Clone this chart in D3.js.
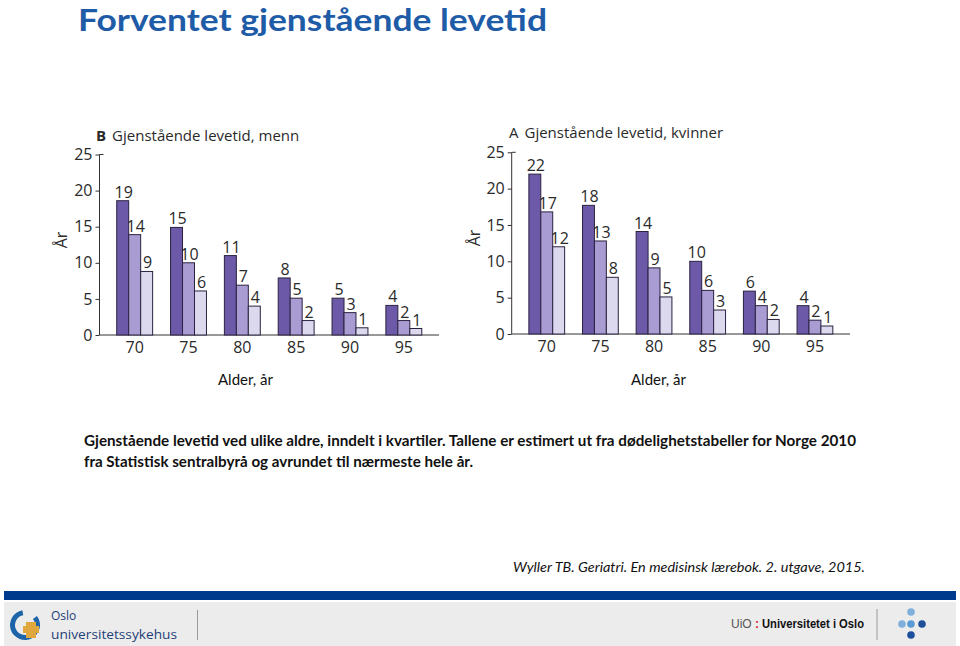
<!DOCTYPE html>
<html>
<head>
<meta charset="utf-8">
<script src="https://cdn.jsdelivr.net/npm/d3@7"></script>
<style>
  html, body { margin: 0; padding: 0; background: #fff; }
  svg { display: block; }
</style>
</head>
<body>
<div id="chart"></div>
<script>
// ---------- data ----------
const ages = ["70", "75", "80", "85", "90", "95"];
const quartileKeys = ["øvre", "median", "nedre"];
const yTicks = [0, 5, 10, 15, 20, 25];

// Men (panel B): bar heights (years) per age, per quartile, and printed labels
const menUpper  = [18.6, 14.9, 11.0, 7.9, 5.1, 4.1];
const menMedian = [13.9, 10.0, 6.9, 5.1, 3.1, 2.0];
const menLower  = [8.8, 6.1, 4.0, 2.0, 1.0, 0.9];
const menUpperLbl  = [19, 15, 11, 8, 5, 4];
const menMedianLbl = [14, 10, 7, 5, 3, 2];
const menLowerLbl  = [9, 6, 4, 2, 1, 1];

// Women (panel A)
const womenUpper  = [22.0, 17.7, 14.1, 10.0, 5.9, 3.9];
const womenMedian = [16.8, 12.8, 9.1, 6.0, 3.9, 1.9];
const womenLower  = [12.0, 7.8, 5.1, 3.3, 2.0, 1.1];
const womenUpperLbl  = [22, 18, 14, 10, 6, 4];
const womenMedianLbl = [17, 13, 9, 6, 4, 2];
const womenLowerLbl  = [12, 8, 5, 3, 2, 1];

const W = 960, H = 646;
const svg = d3.select("#chart").append("svg").attr("width", W).attr("height", H);

// ---------- title ----------
svg.append("text")
  .attr("x", 78).attr("y", 31)
  .attr("font-family", "Lato, 'Open Sans', sans-serif")
  .attr("font-weight", 700)
  .attr("font-size", 31)
  .attr("fill", "#1f5ca8")
  .attr("textLength", 469).attr("lengthAdjust", "spacingAndGlyphs")
  .text("Forventet gjenstående levetid");

const colors = ["#6c5aa9", "#a99cd2", "#dcd8ee"];
const chartFont = "'Open Sans', 'Noto Sans', sans-serif";

function panel(cfg) {
  const g = svg.append("g");
  const x0 = d3.scaleBand().domain(ages).range([cfg.x0, cfg.x1]).paddingInner(0.333).paddingOuter(0.32);
  const x1 = d3.scaleBand().domain(quartileKeys).range([0, x0.bandwidth()]);
  const y = d3.scaleLinear().domain([0, 25]).range([cfg.y0, cfg.y25]);

  // y axis
  const ya = g.append("g").attr("transform", `translate(${cfg.x0},0)`)
    .call(d3.axisLeft(y).tickValues(yTicks).tickSize(4).tickPadding(3));
  ya.select(".domain").remove();
  ya.selectAll(".tick line").attr("stroke", "#333");
  ya.selectAll(".tick text").attr("font-family", chartFont).attr("font-size", 16).attr("fill", "#2a2a2a");
  g.append("line").attr("x1", cfg.x0).attr("x2", cfg.x0).attr("y1", y(0)).attr("y2", y(25)).attr("stroke", "#333");
  g.append("line").attr("x1", cfg.x0).attr("x2", cfg.x0 + 4).attr("y1", y(25)).attr("y2", y(25)).attr("stroke", "#333");

  // x axis
  g.append("line").attr("x1", cfg.x0).attr("x2", cfg.x1).attr("y1", y(0)).attr("y2", y(0)).attr("stroke", "#333");
  const xa = g.append("g").attr("transform", `translate(0,${y(0)})`)
    .call(d3.axisBottom(x0).tickSize(0).tickPadding(7));
  xa.select(".domain").remove();
  xa.selectAll(".tick text").attr("font-family", chartFont).attr("font-size", 16).attr("fill", "#2a2a2a");

  // bars
  const rows = ages.map((a, i) => ({
    age: a,
    vals: quartileKeys.map((k, j) => ({ key: k, v: cfg.series[j][i], lbl: cfg.labels[j][i], j }))
  }));
  const grp = g.selectAll("g.grp").data(rows).join("g").attr("class", "grp")
    .attr("transform", d => `translate(${x0(d.age)},0)`);
  grp.selectAll("rect").data(d => d.vals).join("rect")
    .attr("x", d => x1(d.key)).attr("width", x1.bandwidth())
    .attr("y", d => y(d.v)).attr("height", d => y(0) - y(d.v))
    .attr("fill", d => colors[d.j]).attr("stroke", "#2b2240").attr("stroke-width", 1);
  grp.selectAll("text").data(d => d.vals).join("text")
    .attr("x", d => x1(d.key) + x1.bandwidth() / 2 + 1)
    .attr("y", d => y(d.v) - 3)
    .attr("text-anchor", "middle")
    .attr("font-family", chartFont).attr("font-size", 16).attr("fill", "#2a2a2a")
    .text(d => d.lbl);

  // panel title
  const t = g.append("text").attr("x", cfg.titleX).attr("y", cfg.titleY)
    .attr("font-family", chartFont).attr("font-size", 15).attr("fill", "#2a2a2a");
  t.append("tspan").attr("font-weight", cfg.letterBold ? 700 : 400).text(cfg.letter);
  t.append("tspan").attr("dx", 6).text(cfg.title);

  // y label
  g.append("text")
    .attr("transform", `translate(${cfg.yLabelX},${cfg.yLabelY}) rotate(-90)`)
    .attr("text-anchor", "middle")
    .attr("font-family", chartFont).attr("font-size", 16).attr("fill", "#2a2a2a")
    .text("År");

  // x label
  svg.append("text").attr("x", cfg.xLabelX).attr("y", 385)
    .attr("font-family", "Lato, 'Open Sans', sans-serif").attr("font-size", 15).attr("fill", "#111")
    .text("Alder, år");
}

panel({
  x0: 99.5, x1: 439, y0: 335, y25: 154.5,
  series: [menUpper, menMedian, menLower],
  labels: [menUpperLbl, menMedianLbl, menLowerLbl],
  letter: "B", letterBold: true, title: "Gjenstående levetid, menn",
  titleX: 96, titleY: 141, yLabelX: 67, yLabelY: 240, xLabelX: 218
});
panel({
  x0: 511.7, x1: 850, y0: 334, y25: 152.3,
  series: [womenUpper, womenMedian, womenLower],
  labels: [womenUpperLbl, womenMedianLbl, womenLowerLbl],
  letter: "A", letterBold: false, title: "Gjenstående levetid, kvinner",
  titleX: 509, titleY: 138, yLabelX: 480, yLabelY: 238, xLabelX: 631
});

// ---------- caption ----------
const capFont = "Lato, 'Open Sans', sans-serif";
svg.append("text").attr("x", 84).attr("y", 446)
  .attr("font-family", capFont).attr("font-weight", 700).attr("font-size", 15).attr("fill", "#111")
  .attr("textLength", 772).attr("lengthAdjust", "spacingAndGlyphs")
  .text("Gjenstående levetid ved ulike aldre, inndelt i kvartiler. Tallene er estimert ut fra dødelighetstabeller for Norge 2010");
svg.append("text").attr("x", 84).attr("y", 467)
  .attr("font-family", capFont).attr("font-weight", 700).attr("font-size", 15).attr("fill", "#111")
  .attr("textLength", 389).attr("lengthAdjust", "spacingAndGlyphs")
  .text("fra Statistisk sentralbyrå og avrundet til nærmeste hele år.");
svg.append("text").attr("x", 513).attr("y", 572)
  .attr("font-family", capFont).attr("font-style", "italic").attr("font-size", 14).attr("fill", "#111")
  .attr("textLength", 352).attr("lengthAdjust", "spacingAndGlyphs")
  .text("Wyller TB. Geriatri. En medisinsk lærebok. 2. utgave, 2015.");

// ---------- footer ----------
svg.append("rect").attr("x", 4).attr("y", 591).attr("width", 952).attr("height", 9).attr("fill", "#003a8c");
svg.append("rect").attr("x", 4).attr("y", 602).attr("width", 952).attr("height", 44).attr("fill", "#ececec");

// OUS logo
const arc = d3.arc().innerRadius(10).outerRadius(15).startAngle(0.35 * Math.PI).endAngle(2.0 * Math.PI);
svg.append("path").attr("d", arc()).attr("transform", "translate(25,625) rotate(-10)").attr("fill", "#1d65a8");
svg.append("rect").attr("x", 26).attr("y", 622).attr("width", 10).attr("height", 16).attr("fill", "#e0a83c");
svg.append("rect").attr("x", 23).attr("y", 626).attr("width", 16).attr("height", 7).attr("fill", "#e0a83c");
svg.append("text").attr("x", 51).attr("y", 620).attr("font-family", "'Open Sans', sans-serif")
  .attr("font-size", 12).attr("fill", "#1f3f78").text("Oslo");
svg.append("text").attr("x", 51).attr("y", 639).attr("font-family", "'Open Sans', sans-serif")
  .attr("font-size", 13).attr("fill", "#1f3f78").attr("textLength", 126).attr("lengthAdjust", "spacingAndGlyphs")
  .text("universitetssykehus");
svg.append("line").attr("x1", 197.5).attr("x2", 197.5).attr("y1", 610).attr("y2", 640).attr("stroke", "#999");

// UiO
svg.append("text").attr("x", 731).attr("y", 628).attr("font-family", "'Liberation Sans', Arial, sans-serif")
  .attr("font-size", 12).attr("fill", "#555").text("UiO");
svg.append("text").attr("x", 755).attr("y", 628).attr("font-family", "'Liberation Sans', Arial, sans-serif")
  .attr("font-size", 12).attr("font-weight", 700).attr("fill", "#d32027").text(":");
svg.append("text").attr("x", 762).attr("y", 628).attr("font-family", "'Liberation Sans', Arial, sans-serif")
  .attr("font-size", 12).attr("font-weight", 700).attr("fill", "#111")
  .attr("textLength", 102).attr("lengthAdjust", "spacingAndGlyphs").text("Universitetet i Oslo");
svg.append("line").attr("x1", 877).attr("x2", 877).attr("y1", 609).attr("y2", 640).attr("stroke", "#999");
const dots = [[911, 612, "#7fb0dc"], [902, 624, "#7fb0dc"], [911, 624, "#5b9bd5"], [922, 624, "#1d4f9a"], [911, 635, "#1d4f9a"]];
svg.selectAll("circle.dot").data(dots).join("circle").attr("class", "dot")
  .attr("cx", d => d[0]).attr("cy", d => d[1]).attr("r", 3.8).attr("fill", d => d[2]);
</script>
</body>
</html>
